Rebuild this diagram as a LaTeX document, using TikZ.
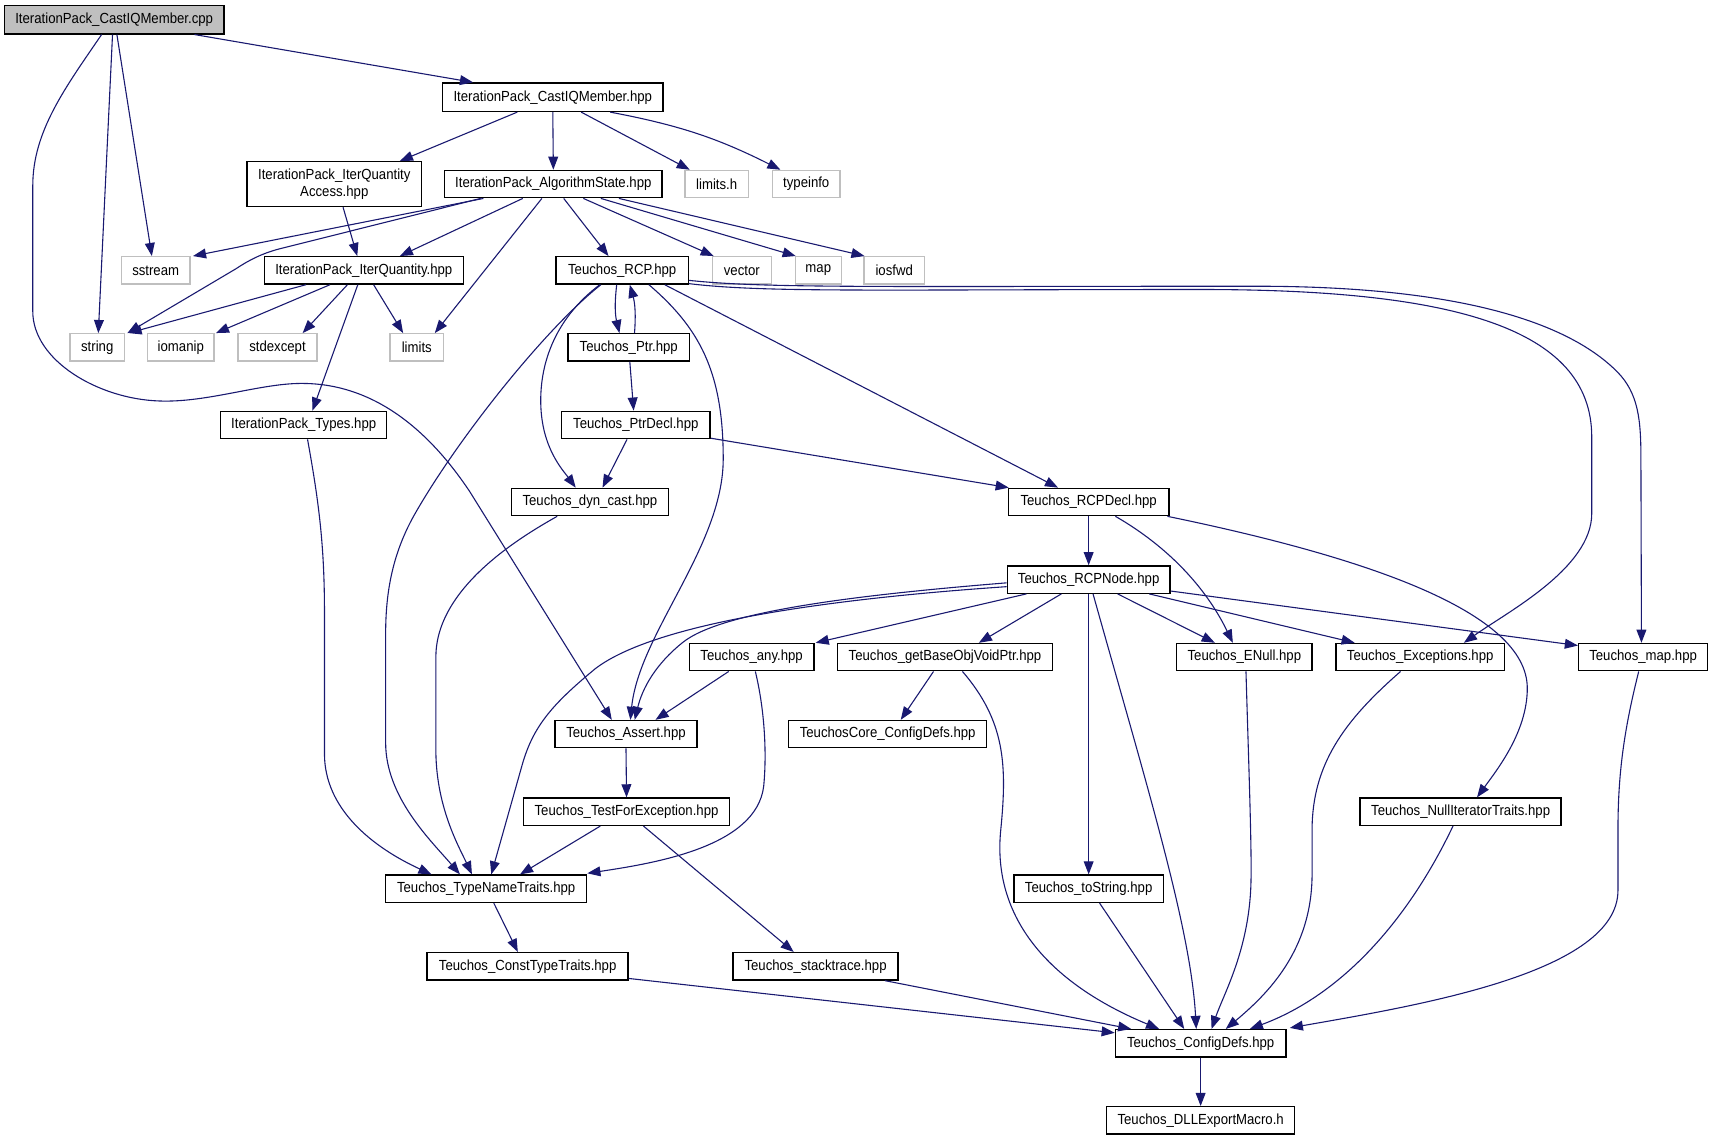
\documentclass[tikz,border=0pt]{standalone}
\usepackage{fontspec}
\setmainfont{Liberation Sans}[FakeStretch=0.9]
\usetikzlibrary{arrows.meta}
\definecolor{mblue}{HTML}{191970}
\definecolor{lgray}{HTML}{BFBFBF}
\begin{document}
\begin{tikzpicture}[x=1pt,y=-1pt,
  font=\fontsize{13.4}{15.5}\selectfont,
  box/.style={draw=black, line width=1.25pt, fill=white, inner sep=0pt, minimum height=25pt, align=center},
  gbox/.style={box, draw=lgray},
  mainbox/.style={box, fill=lgray},
  edge/.style={draw=mblue, line width=1pt, -{Triangle[length=12pt,width=9pt]}}]
\fill[white] (0,0) rectangle (1568,1044.4);
\useasboundingbox (0,0) rectangle (1568,1044.4);
% nodes
\node[mainbox, minimum width=201pt, minimum height=26pt] (cpp) at (104.5,18) {IterationPack\_CastIQMember.cpp};
\node[box, minimum width=202pt, minimum height=26pt] (hpp) at (506,89) {IterationPack\_CastIQMember.hpp};
\node[box, minimum width=160pt, minimum height=41pt] (iqa) at (306,168.5) {IterationPack\_IterQuantity\\Access.hpp};
\node[box, minimum width=199pt] (alg) at (506.5,168.5) {IterationPack\_AlgorithmState.hpp};
\node[gbox, minimum width=58pt] (limh) at (656,168.5) {limits.h};
\node[gbox, minimum width=62pt] (tinfo) at (738,168.5) {typeinfo};
\node[gbox, minimum width=63pt] (sstr) at (142.5,247.5) {sstream};
\node[box, minimum width=182pt] (iq) at (333,247.5) {IterationPack\_IterQuantity.hpp};
\node[box, minimum width=121pt] (rcp) at (569.5,247.5) {Teuchos\_RCP.hpp};
\node[gbox, minimum width=54pt] (vec) at (679,247.5) {vector};
\node[gbox, minimum width=42pt] (smap) at (749,247.5) {map};
\node[gbox, minimum width=55pt] (iosf) at (818.5,247.5) {iosfwd};
\node[gbox, minimum width=50pt] (str) at (89,318) {string};
\node[gbox, minimum width=61pt] (ioma) at (165.5,318) {iomanip};
\node[gbox, minimum width=72pt] (stde) at (254,318) {stdexcept};
\node[gbox, minimum width=49pt] (lim) at (381.5,318) {limits};
\node[box, minimum width=111pt] (ptr) at (575.5,318) {Teuchos\_Ptr.hpp};
\node[box, minimum width=152pt] (types) at (278,389) {IterationPack\_Types.hpp};
\node[box, minimum width=136pt] (ptrd) at (582,389) {Teuchos\_PtrDecl.hpp};
\node[box, minimum width=144pt] (dync) at (540,459.5) {Teuchos\_dyn\_cast.hpp};
\node[box, minimum width=147pt] (rcpd) at (996.5,459.5) {Teuchos\_RCPDecl.hpp};
\node[box, minimum width=149pt] (rcpn) at (996.5,530.5) {Teuchos\_RCPNode.hpp};
\node[box, minimum width=114pt] (any) at (688,601.5) {Teuchos\_any.hpp};
\node[box, minimum width=197pt] (gbo) at (865,601.5) {Teuchos\_getBaseObjVoidPtr.hpp};
\node[box, minimum width=124pt] (enull) at (1139,601.5) {Teuchos\_ENull.hpp};
\node[box, minimum width=154pt] (exc) at (1300,601.5) {Teuchos\_Exceptions.hpp};
\node[box, minimum width=118pt] (tmap) at (1504,601.5) {Teuchos\_map.hpp};
\node[box, minimum width=130pt] (asrt) at (573,672) {Teuchos\_Assert.hpp};
\node[box, minimum width=181pt] (core) at (812.5,672) {TeuchosCore\_ConfigDefs.hpp};
\node[box, minimum width=189pt] (tfe) at (573.5,743) {Teuchos\_TestForException.hpp};
\node[box, minimum width=184pt] (nit) at (1337,743) {Teuchos\_NullIteratorTraits.hpp};
\node[box, minimum width=184pt] (tnt) at (445,813.5) {Teuchos\_TypeNameTraits.hpp};
\node[box, minimum width=137pt] (tostr) at (996.5,813.5) {Teuchos\_toString.hpp};
\node[box, minimum width=184pt] (ctt) at (483,884.5) {Teuchos\_ConstTypeTraits.hpp};
\node[box, minimum width=151pt] (stk) at (746.5,884.5) {Teuchos\_stacktrace.hpp};
\node[box, minimum width=156pt] (cfg) at (1099,955) {Teuchos\_ConfigDefs.hpp};
\node[box, minimum width=172pt] (dll) at (1099,1025.5) {Teuchos\_DLLExportMacro.h};
% edges
\draw[edge] ([xshift=73.5]cpp.south) -- ([xshift=-73]hpp.north);
\draw[edge] ([xshift=2.5]cpp.south) -- ([xshift=-3.5]sstr.north);
\draw[edge] ([xshift=-1.5]cpp.south) -- ([xshift=1]str.north);
\draw[edge] ([xshift=-11.5]cpp.south) .. controls (60,80) and (30,120) .. (30,170) -- (30,285) .. controls (30,330) and (90,365) .. (145,367) .. controls (190,369) and (240,350) .. (279,351) .. controls (340,352) and (390,390) .. (430,450) -- ([xshift=-13]asrt.north);
\draw[edge] ([xshift=-32.5]hpp.south) -- ([xshift=60]iqa.north);
\draw[edge] (hpp.south) -- (alg.north);
\draw[edge] ([xshift=26]hpp.south) -- ([xshift=5]limh.north west);
\draw[edge] ([xshift=52.5]hpp.south) to[bend left=8] ([xshift=8]tinfo.north west);
\draw[edge] ([xshift=8]iqa.south) -- ([xshift=-6]iq.north);
\draw[edge] ([xshift=-64]alg.south) -- ([xshift=2]sstr.north east);
\draw[edge] ([xshift=-66.5]alg.south) -- (255,228) .. controls (240,232) and (228,238) .. (216,246) -- ([xshift=2]str.north east);
\draw[edge] ([xshift=-28]alg.south) -- ([xshift=33]iq.north);
\draw[edge] ([xshift=-10.5]alg.south) -- ([xshift=16.5]lim.north);
\draw[edge] ([xshift=9.5]alg.south) -- ([xshift=-12.5]rcp.north);
\draw[edge] ([xshift=27.5]alg.south) -- ([xshift=2]vec.north west);
\draw[edge] ([xshift=43.5]alg.south) -- ([xshift=1]smap.north west);
\draw[edge] ([xshift=60]alg.south) -- ([xshift=1]iosf.north west);
\draw[edge] ([xshift=-53]iq.south) -- ([xshift=3]str.north east);
\draw[edge] ([xshift=-31]iq.south) -- ([xshift=1]ioma.north east);
\draw[edge] ([xshift=-15]iq.south) -- ([xshift=23]stde.north);
\draw[edge] ([xshift=9]iq.south) -- ([xshift=-12.5]lim.north);
\draw[edge] ([xshift=-5.5]iq.south) -- ([xshift=8]types.north);
\draw[edge] ([xshift=3.5]types.south) .. controls (292,460) and (297,500) .. (297,560) -- (297,690) .. controls (297,740) and (340,775) .. ([xshift=-50]tnt.north);
\draw[edge] ([xshift=-19.5]rcp.south) .. controls (500,300) and (420,400) .. (380,470) .. controls (360,505) and (353,540) .. (353,580) -- (353,680) .. controls (353,730) and (395,770) .. ([xshift=-24]tnt.north);
\draw[edge] ([xshift=-5]rcp.south) to[bend right=10] ([xshift=-8.5]ptr.north);
\draw[edge] ([xshift=5.3]ptr.north) to[bend right=10] ([xshift=7]rcp.south);
\draw[edge] ([xshift=-20.5]rcp.south) .. controls (510,290) and (494,330) .. (495,370) .. controls (496,410) and (515,430) .. ([xshift=-13]dync.north);
\draw[edge] ([xshift=24.5]rcp.south) .. controls (640,300) and (662,340) .. (662,420) .. controls (662,500) and (585,580) .. ([xshift=4]asrt.north);
\draw[edge] ([xshift=39]rcp.south) -- ([xshift=-28]rcpd.north);
\draw[edge] ([yshift=1]rcp.south east) .. controls (700,268) and (800,265) .. (1100,265) .. controls (1330,265) and (1457,300) .. (1457,400) -- (1457,470) .. controls (1457,520) and (1380,560) .. ([xshift=40]exc.north);
\draw[edge] ([yshift=4]rcp.south east) .. controls (700,264) and (800,262) .. (1150,262) .. controls (1350,262) and (1440,300) .. (1480,340) .. controls (1500,360) and (1502,385) .. (1502,420) -- ([xshift=-1.5]tmap.north);
\draw[edge] ([xshift=-8]ptrd.south) -- ([xshift=11.5]dync.north);
\draw[edge] ([yshift=1]ptrd.south east) -- ([xshift=1]rcpd.north west);
\draw[edge] ([xshift=1]ptr.south) -- ([xshift=-2]ptrd.north);
\draw[edge] ([xshift=-30]dync.south) .. controls (470,495) and (400,540) .. (399,600) -- (399,690) .. controls (400,740) and (420,775) .. ([xshift=-13]tnt.north);
\draw[edge] (rcpd.south) -- (rcpn.north);
\draw[edge] ([xshift=24.5]rcpd.south) .. controls (1060,495) and (1100,530) .. ([xshift=-10.5]enull.north);
\draw[edge] ([xshift=-2]rcpd.south east) .. controls (1250,510) and (1398,560) .. (1398,630) .. controls (1398,670) and (1370,705) .. ([xshift=15]nit.north);
\draw[edge] ([yshift=-6.5]rcpn.west) .. controls (760,548) and (600,570) .. (545,612) .. controls (505,645) and (488,665) .. (478,700) -- ([xshift=4.7]tnt.north);
\draw[edge] ([yshift=-3]rcpn.west) .. controls (780,545) and (660,560) .. (625,588) .. controls (600,608) and (588,630) .. ([xshift=8]asrt.north);
\draw[edge] ([xshift=-57]rcpn.south) -- ([xshift=1]any.north east);
\draw[edge] ([xshift=-25]rcpn.south) -- ([xshift=31]gbo.north);
\draw[edge] (rcpn.south) -- (tostr.north);
\draw[edge] ([xshift=4]rcpn.south) .. controls (1050,720) and (1090,850) .. ([xshift=-4]cfg.north);
\draw[edge] ([xshift=26.5]rcpn.south) -- ([xshift=-27]enull.north);
\draw[edge] ([xshift=55.5]rcpn.south) -- ([xshift=-60]exc.north);
\draw[edge] ([yshift=-10.5]rcpn.east) -- ([yshift=-2.5]tmap.north west);
\draw[edge] ([xshift=-21]any.south) -- ([xshift=27]asrt.north);
\draw[edge] ([xshift=3.4]any.south) .. controls (700,650) and (702,690) .. (699,720) .. controls (692,775) and (600,790) .. ([yshift=1]tnt.north east);
\draw[edge] ([xshift=-10.5]gbo.south) -- ([xshift=12]core.north);
\draw[edge] ([xshift=16]gbo.south) .. controls (920,660) and (922,700) .. (916,760) .. controls (908,840) and (960,900) .. ([xshift=-38]cfg.north);
\draw[edge] (asrt.south) -- (tfe.north);
\draw[edge] ([xshift=-24]tfe.south) -- ([xshift=31]tnt.north);
\draw[edge] ([xshift=15.5]tfe.south) -- ([xshift=-20]stk.north);
\draw[edge] ([xshift=7]tnt.south) -- ([xshift=-9]ctt.north);
\draw[edge] ([yshift=2]ctt.south east) -- ([yshift=-3.5]cfg.north west);
\draw[edge] ([xshift=63.5]stk.south) -- ([xshift=-63.5]cfg.north);
\draw[edge] ([xshift=10]tostr.south) -- ([xshift=-15]cfg.north);
\draw[edge] ([xshift=1.5]enull.south) .. controls (1143,700) and (1146,780) .. (1145,810) .. controls (1143,870) and (1120,910) .. ([xshift=10]cfg.north);
\draw[edge] ([xshift=-18]exc.south) .. controls (1230,660) and (1201,700) .. (1201,760) -- (1201,800) .. controls (1201,870) and (1160,910) .. ([xshift=23]cfg.north);
\draw[edge] ([xshift=-7]nit.south) .. controls (1290,840) and (1230,910) .. ([xshift=45]cfg.north);
\draw[edge] ([xshift=-4]tmap.south) .. controls (1486,670) and (1481,710) .. (1481,760) -- (1481,815) .. controls (1481,890) and (1300,920) .. ([xshift=3,yshift=1]cfg.north east);
\draw[edge] (cfg.south) -- (dll.north);
\end{tikzpicture}
\end{document}
